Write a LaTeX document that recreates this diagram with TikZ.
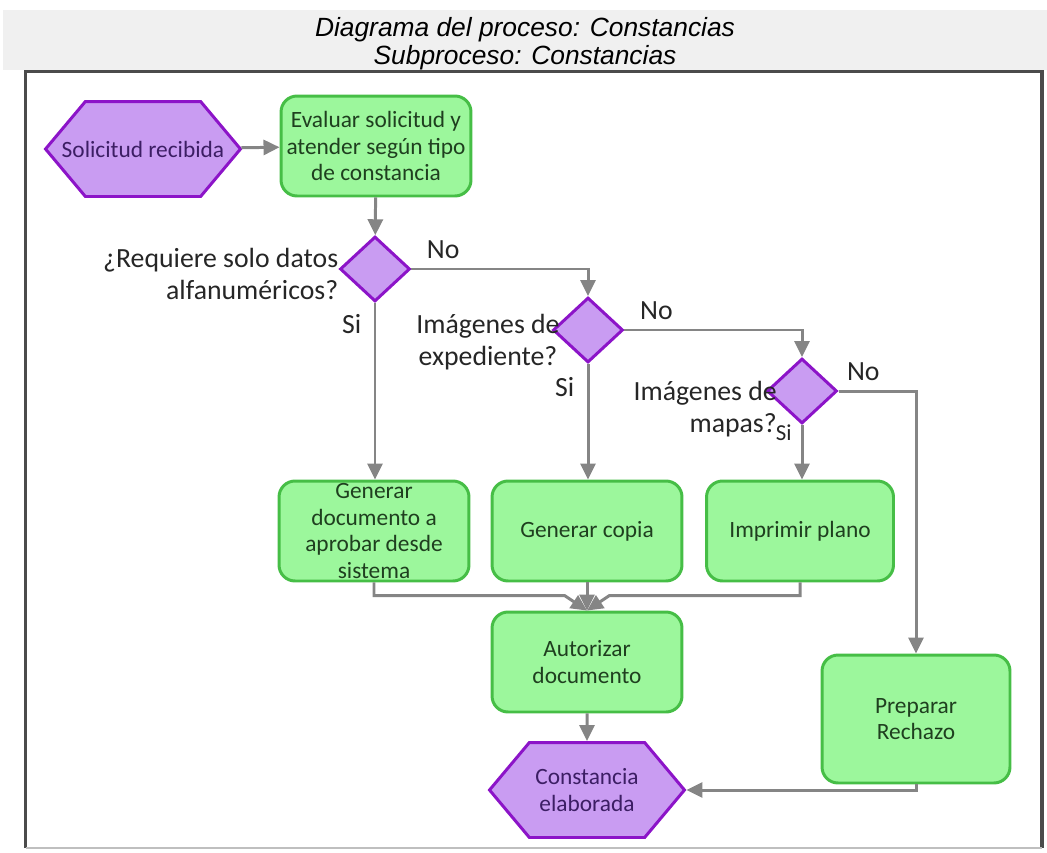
\documentclass[tikz,border=0pt]{standalone}
\usepackage{fontspec}
\setmainfont{Carlito}
\newfontfamily\headfont{Liberation Sans}
\usepackage{tikz}
\usetikzlibrary{arrows.meta,positioning,shapes.geometric,shapes.symbols}

\definecolor{verdefondo}{HTML}{9CF79C}
\definecolor{verdeborde}{HTML}{46BE46}
\definecolor{verdetexto}{HTML}{1F3F1F}
\definecolor{lilafondo}{HTML}{C99CF2}
\definecolor{lilaborde}{HTML}{8C14C8}
\definecolor{lilatexto}{HTML}{3C1E64}
\definecolor{gris}{HTML}{858585}
\definecolor{banda}{HTML}{F0F0F0}
\definecolor{marco}{HTML}{4B4B4B}

\tikzset{
  proceso/.style={draw=verdeborde, fill=verdefondo, line width=1.7pt, rounded corners=0.32cm,
    minimum width=3.8cm, minimum height=2cm, align=center, text=verdetexto,
    font=\fontsize{13.3}{15.2}\selectfont, inner xsep=2pt, inner ysep=0pt},
  evento/.style={signal, signal to=west and east, signal pointer angle=100,
    draw=lilaborde, fill=lilafondo, line width=1.7pt, minimum width=3.9cm, minimum height=1.9cm,
    align=center, text=lilatexto, font=\fontsize{13.3}{15.2}\selectfont, inner sep=2pt},
  decision/.style={diamond, draw=lilaborde, fill=lilafondo, line width=1.7pt,
    minimum width=1.4cm, minimum height=1.3cm, inner sep=0pt},
  flecha/.style={draw=gris, line width=1.7pt, -{Triangle[length=0.32cm,width=0.3cm]}},
  etiqueta/.style={font=\fontsize{15.8}{18.2}\selectfont, text=black!85, align=right, inner sep=0pt},
}

\begin{document}
\begin{tikzpicture}[x=0.02cm,y=-0.02cm]
    \useasboundingbox (0,0) rectangle (1047,852);

    % cabecera y marco
    \fill[banda] (3,10) rectangle (1047,70);
    \node (titulo) at (525,44) {\parbox{12cm}{\centering\headfont\itshape\fontsize{15}{15.9}\selectfont
        Diagrama del proceso: Constancias\\ Subproceso: Constancias}};
    \draw[marco, line width=2pt] (25.5,848) -- (25.5,71.5) -- (1042,71.5) -- (1042,848);
    \draw[black!25, line width=1.5pt] (25.5,848) -- (1042,848);

    % nodos
    \node[evento, inner xsep=-18pt] (solicitud) at (143,149) {Solicitud recibida};
    \node[proceso] (evaluar)    at (376,146) {Evaluar solicitud y\\ atender según tipo\\ de constancia};
    \node[decision] (d1) at (375,269) {};
    \node[decision] (d2) at (588,330) {};
    \node[decision] (d3) at (802,391) {};
    \node[proceso] (gendoc)     at (374,531) {Generar\\ documento a\\ aprobar desde\\ sistema};
    \node[proceso] (copia)      at (587,531) {Generar copia};
    \node[proceso, minimum width=3.74cm] (imprimir) at (800,531) {Imprimir plano};
    \node[proceso] (autorizar)  at (587,662) {Autorizar\\ documento};
    \node[proceso, minimum width=3.76cm, minimum height=2.56cm] (rechazo) at (916,719) {Preparar\\ Rechazo};
    \node[evento]  (constancia) at (587,790) {Constancia\\ elaborada};

    % preguntas
    \node[etiqueta, left=0pt of d1, yshift=-0.1cm] (p1) {¿Requiere solo datos\\ alfanuméricos?};
    \node[etiqueta, align=center] (p2) at (488,342) {Imágenes de\\ expediente?};
    \node[etiqueta, anchor=east] (p3) at (777,409) {Imágenes de\\ mapas?};

    % conectores
    \draw[flecha] (solicitud) -- (evaluar);
    \draw[flecha] (evaluar) -- (d1);
    \draw[flecha] (d1.east) -| (d2.north) node[etiqueta, pos=0.09, above=5pt] (no1) {No};
    \draw[flecha] (d2.east) -| (d3.north) node[etiqueta, pos=0.09, above=5pt] (no2) {No};
    \draw[flecha] (d3.east) -| (rechazo.north) node[etiqueta, pos=0.16, above=5pt] (no3) {No};
    \draw[flecha] (d1.south) -- (d1.south |- gendoc.north) node[etiqueta, pos=0.12, left=7pt] (si1) {Si};
    \draw[flecha] (d2.south) -- (d2.south |- copia.north) node[etiqueta, pos=0.2, left=7pt] (si2) {Si};
    \draw[flecha] (d3.south) -- (d3.south |- imprimir.north) node[etiqueta, font=\fontsize{13}{14}\selectfont, pos=0.15, left=5pt] (si3) {Si};
    \draw[flecha] (gendoc.south) |- ([xshift=-0.45cm,yshift=0.3cm]autorizar.north) -- (autorizar.north);
    \draw[flecha] (copia) -- (autorizar);
    \draw[flecha] (imprimir.south) |- ([xshift=0.45cm,yshift=0.3cm]autorizar.north) -- (autorizar.north);
    \draw[flecha] (autorizar) -- (constancia);
    \draw[flecha] (rechazo.south) |- (constancia.east);
\end{tikzpicture}
\end{document}
